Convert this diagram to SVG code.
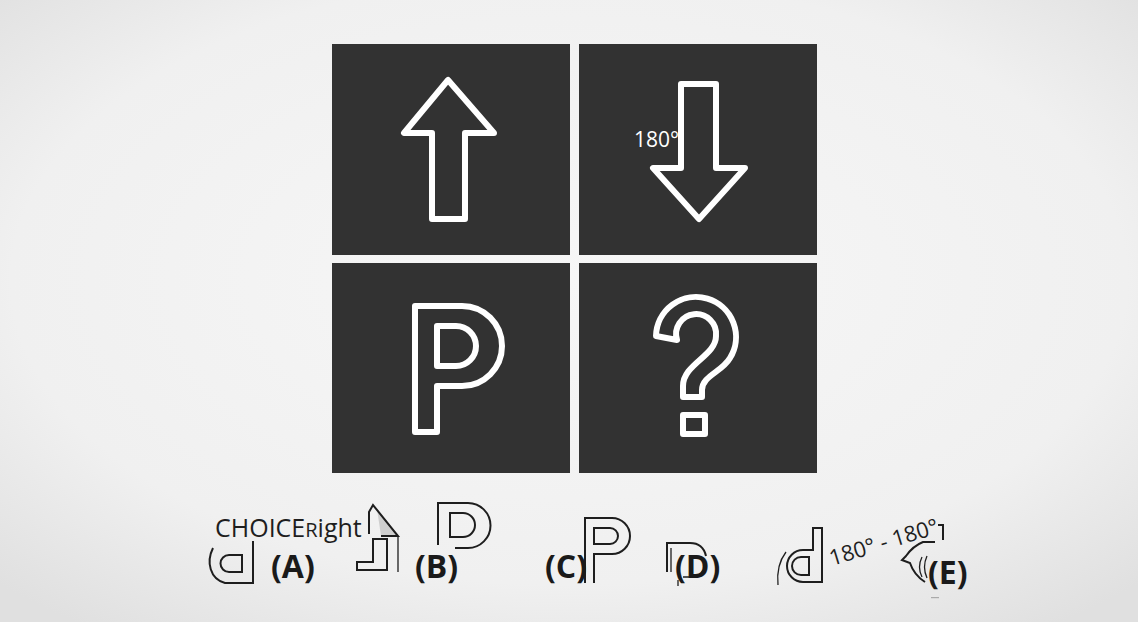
<svg xmlns="http://www.w3.org/2000/svg" width="1138" height="622" viewBox="0 0 1138 622">
<defs>
<radialGradient id="bg" cx="50%" cy="45%" r="70%">
<stop offset="0" stop-color="#f7f7f7"/>
<stop offset="0.7" stop-color="#f0f0f0"/>
<stop offset="1" stop-color="#e0e0e0"/>
</radialGradient>
<style>
.panel{fill:#323232}
.wline{fill:none;stroke:#ffffff;stroke-width:6;stroke-linejoin:round;stroke-linecap:round}
.kline{fill:none;stroke:#1e1e1e;stroke-width:2;stroke-linejoin:miter}
.thin{fill:none;stroke:#1e1e1e;stroke-width:1.3}
.lbl{font-family:"Open Sans","Liberation Sans",sans-serif;font-weight:bold;font-size:32px;fill:#1a1a1a}
.txt{font-family:"Open Sans","Liberation Sans",sans-serif;fill:#1e1e1e}
</style>
</defs>
<rect width="1138" height="622" fill="url(#bg)"/>

<g id="panel-up">
<rect class="panel" x="332" y="44" width="238" height="211"/>
<path class="wline" d="M448,80 L404,133 H432 V219 H465 V133 H494 Z"/>
</g>
<g id="panel-down">
<rect class="panel" x="579" y="44" width="238" height="211"/>
<path class="wline" d="M681,84 H716 V168 H745 L699,219 L653,168 H681 Z"/>
<text x="634" y="147" font-family="Open Sans, Liberation Sans, sans-serif" font-size="21" fill="#ffffff">180°</text>
</g>
<g id="panel-p">
<rect class="panel" x="332" y="263" width="238" height="210"/>
<path class="wline" d="M415,432 V306 H462 A40,40 0 0 1 462,386 H437 V432 Z"/>
<path class="wline" d="M437,326 H456 A20,20 0 0 1 456,366 H437 Z"/>
</g>
<g id="panel-question">
<rect class="panel" x="579" y="263" width="238" height="210"/>
<path class="wline" d="M656,336 A40,40 0 1 1 730,358 C722,372 702,376 702,390 V397 H683 V386 C683,364 716,356 716,336 A20,20 0 1 0 677,340 Z"/>
<rect class="wline" x="683" y="415" width="22" height="19"/>
</g>

<g id="choice-a">
<text class="txt" x="215" y="537" font-size="25">CHOICE<tspan font-size="20">R</tspan>ight</text>
<path class="kline" d="M213,548 C206,562 210,579 225,583 H253 V541"/>
<path class="kline" d="M242,555 H229 A8.5,8.5 0 0 0 229,572 H242 Z"/>
<text class="lbl" x="271" y="578">(A)</text>
</g>

<g id="choice-arrow">
<polygon points="377,509 398,536 381,536" fill="#cfcfcf"/>
<path class="kline" d="M369,534 V512 L373,505 L398,536 H381"/>
<path class="kline" d="M357,562 H373 V539 H387 V570 H357 Z"/>
<path class="thin" d="M398,537 V572"/>
</g>

<g id="choice-b">
<path class="kline" d="M438,545 V503 H468 A22.5,22.5 0 0 1 468,548 H455"/>
<path class="kline" d="M450,513 H463 A12,12 0 0 1 463,537 H450 Z"/>
<text class="lbl" x="415" y="578">(B)</text>
</g>

<g id="choice-c">
<path class="kline" d="M585,583 V518 H612 A18,18 0 0 1 612,554 H594 V583"/>
<path class="kline" d="M594,528 H610 A8,8 0 0 1 610,544 H594 Z"/>
<text class="lbl" x="545" y="578">(C)</text>
</g>

<g id="choice-d">
<path class="kline" d="M667,572 V543 H690 Q703,543 706,556"/>
<path class="thin" d="M671,572 V548"/>
<path class="thin" d="M683,577 H693 Q700,577 703,570"/>
<path class="thin" d="M678,580 V586" stroke="#888"/>
<text class="lbl" x="675" y="578">(D)</text>
</g>

<g id="choice-e">
<path class="kline" d="M813,550 H803 A16,16 0 0 0 803,582 H822 V528 H813 Z"/>
<path class="kline" d="M809,557 H801 A9,9 0 0 0 801,575 H809 Z"/>
<path class="thin" d="M786,552 Q776,565 778,585"/>
<text class="txt" font-size="22" transform="translate(832,566) rotate(-17)">180° - 180°</text>
<path class="kline" d="M938,525 H943 V540"/>
<path class="kline" d="M935,542 H923 Q913,546 906,556 L902,560 L910,563 Q914,575 925,582"/>
<path class="thin" d="M922,557 Q917,567 922,577"/>
<path class="thin" d="M927,556 Q922,567 927,578"/>
<text class="lbl" x="928" y="584">(E)</text>
<rect x="931" y="597" width="8" height="1.2" fill="#aaa"/>
</g>
</svg>
